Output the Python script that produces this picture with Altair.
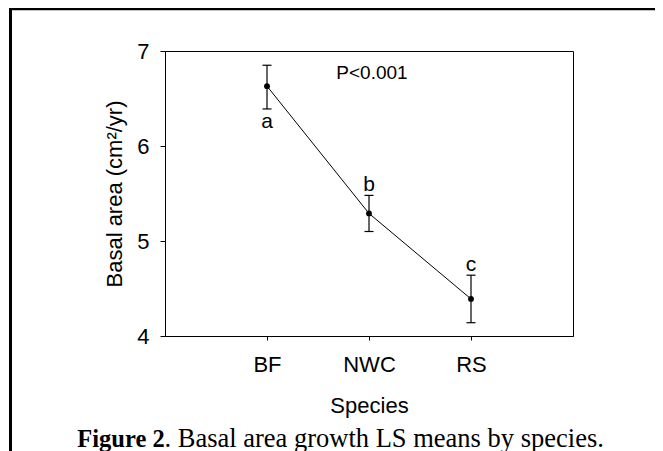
import altair as alt
import pandas as pd

species = ["BF", "NWC", "RS"]
means = [6.63, 5.29, 4.39]
lower = [6.39, 5.10, 4.14]
upper = [6.85, 5.48, 4.64]
letters = ["a", "b", "c"]
letter_side = ["below", "above", "above"]
y_ticks = [4, 5, 6, 7]
p_label = "P<0.001"
cap_bold = "Figure 2"
cap_rest = ". Basal area growth LS means by species."

df = pd.DataFrame({
    "species": species, "mean": means, "lower": lower, "upper": upper,
    "letter": letters, "side": letter_side,
})
one = pd.DataFrame({"k": [0]})

SANS = "Liberation Sans"
SERIF = "Liberation Serif"

x = alt.X("species:N", sort=species,
          scale=alt.Scale(type="point", padding=1, domain=species),
          axis=alt.Axis(title="Species", labelAngle=0, tickSize=4,
                        labelBaseline="alphabetic", labelPadding=31.6,
                        titleY=76, titleBaseline="alphabetic"))
yax = alt.Axis(values=y_ticks, format="d", tickSize=5, labelPadding=11, grid=False,
               title="Basal area (cm²/yr)", titleX=-44, titleY=142.5,
               titleAngle=270, titleBaseline="alphabetic", titleAlign="center")
yscale = alt.Scale(domain=[4, 7], nice=False, zero=False)

base = alt.Chart(df)

line = base.mark_line(color="black", strokeWidth=1).encode(
    x=x, y=alt.Y("mean:Q", scale=yscale, axis=yax))
err = base.mark_rule(color="black", strokeWidth=1.2).encode(
    x=x, y=alt.Y("lower:Q", scale=yscale), y2="upper:Q")
cap_lo = base.mark_tick(color="black", size=9, thickness=1.2, opacity=1).encode(
    x=x, y=alt.Y("lower:Q", scale=yscale))
cap_hi = base.mark_tick(color="black", size=9, thickness=1.2, opacity=1).encode(
    x=x, y=alt.Y("upper:Q", scale=yscale))
pts = base.mark_circle(color="black", size=34, opacity=1).encode(
    x=x, y=alt.Y("mean:Q", scale=yscale))
txt_above = base.transform_filter(alt.datum.side == "above").mark_text(
    font=SANS, fontSize=21, baseline="alphabetic", dy=-4.5, color="black").encode(
    x=x, y=alt.Y("upper:Q", scale=yscale), text="letter:N")
txt_below = base.transform_filter(alt.datum.side == "below").mark_text(
    font=SANS, fontSize=21, baseline="alphabetic", dy=19.3, color="black").encode(
    x=x, y=alt.Y("lower:Q", scale=yscale), text="letter:N")

ptxt = alt.Chart(one).mark_text(font=SANS, fontSize=19, baseline="alphabetic",
                                align="center", color="black").encode(
    x=alt.value(207), y=alt.value(27.7), text=alt.value(p_label))

frame_left = alt.Chart(one).mark_rule(color="black", strokeWidth=3).encode(
    x=alt.value(-154.5), y=alt.value(-45), y2=alt.value(420))
frame_top = alt.Chart(one).mark_rule(color="black", strokeWidth=3).encode(
    x=alt.value(-156), x2=alt.value(520), y=alt.value(-42.3))

cap1 = alt.Chart(one).mark_text(font=SERIF, fontSize=24.5, fontWeight="bold",
                                align="left", baseline="alphabetic", color="black").encode(
    x=alt.value(-87.7), y=alt.value(395.5), text=alt.value(cap_bold))
cap2 = alt.Chart(one).mark_text(font=SERIF, fontSize=26.5, align="left",
                                baseline="alphabetic", color="black").encode(
    x=alt.value(-0.5), y=alt.value(395.5), text=alt.value(cap_rest))

chart = alt.layer(line, err, cap_lo, cap_hi, pts, txt_above, txt_below, ptxt,
                  frame_left, frame_top, cap1, cap2).properties(
    width=408, height=285,
    padding={"left": 157, "top": 43, "right": 82, "bottom": 115},
    autosize=alt.AutoSizeParams(type="none"),
    background="white",
).configure_view(stroke="black", strokeWidth=1).configure_axis(
    domainColor="black", tickColor="black", labelColor="black", titleColor="black",
    labelFont=SANS, titleFont=SANS, labelFontSize=22, titleFontSize=22,
    titleFontWeight="normal", domainWidth=1, tickWidth=1,
)

chart.save("out.html", embed_options={"renderer": "svg", "actions": False})
